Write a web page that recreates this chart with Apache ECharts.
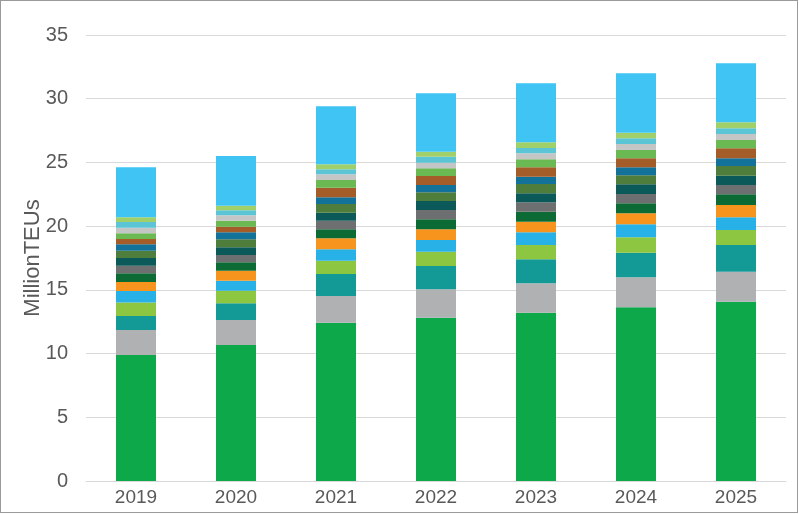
<!DOCTYPE html>
<html>
<head>
<meta charset="utf-8">
<script src="https://cdn.jsdelivr.net/npm/echarts@6/dist/echarts.min.js"></script>
<style>
html,body{margin:0;padding:0;background:#fff;}
#wrap{position:absolute;left:0;top:0;width:796px;height:511px;border:1.5px solid #9a9a9a;}
#c{width:799px;height:514px;position:absolute;left:0;top:0;}
</style>
</head>
<body>
<div id="c"></div>
<div id="wrap" style="pointer-events:none"></div>
<script>
const years = ['2019','2020','2021','2022','2023','2024','2025'];
const s01 = [9.89, 10.67, 12.42, 12.82, 13.21, 13.63, 14.07];
const s02 = [1.96, 1.96, 2.10, 2.22, 2.30, 2.36, 2.35];
const s03 = [1.10, 1.31, 1.72, 1.83, 1.89, 1.93, 2.10];
const s04 = [1.05, 0.99, 1.05, 1.12, 1.12, 1.20, 1.18];
const s05 = [0.91, 0.79, 0.89, 0.92, 1.00, 1.02, 0.99];
const s06 = [0.71, 0.78, 0.87, 0.84, 0.83, 0.87, 0.97];
const s07 = [0.68, 0.66, 0.70, 0.79, 0.78, 0.78, 0.84];
const s08 = [0.60, 0.58, 0.68, 0.73, 0.74, 0.73, 0.73];
const s09 = [0.60, 0.60, 0.62, 0.70, 0.71, 0.76, 0.73];
const s10 = [0.57, 0.63, 0.69, 0.69, 0.73, 0.71, 0.76];
const s11 = [0.50, 0.55, 0.52, 0.57, 0.57, 0.63, 0.60];
const s12 = [0.42, 0.44, 0.76, 0.71, 0.74, 0.70, 0.79];
const s13 = [0.45, 0.47, 0.60, 0.60, 0.63, 0.65, 0.65];
const s14 = [0.44, 0.42, 0.45, 0.44, 0.47, 0.47, 0.47];
const s15 = [0.44, 0.39, 0.39, 0.47, 0.41, 0.45, 0.45];
const s16 = [0.37, 0.36, 0.39, 0.39, 0.45, 0.44, 0.47];
const s17 = [3.93, 3.90, 4.56, 4.58, 4.63, 4.66, 4.63];
const yTicks = [0, 5, 10, 15, 20, 25, 30, 35];

const seriesData = [s01,s02,s03,s04,s05,s06,s07,s08,s09,s10,s11,s12,s13,s14,s15,s16,s17];
const colors = ['#0CA84A','#B0B1B3','#139A96','#8DC641','#27B1E6','#F7941E','#0C6B35','#6E6F71',
  '#0B5959','#4F7D3B','#13729A','#A45D29','#6BB953','#C4C6C6','#5BC5D6','#A1D06A','#3FC4F4'];

const chart = echarts.init(document.getElementById('c'));
chart.setOption({
  animation:false,
  grid:{left:86, right:13, top:35, bottom:33, outerBoundsMode:'none', containLabel:false},
  xAxis:{
    type:'category', data:years,
    axisLine:{show:true, lineStyle:{color:'#d9d9d9'}},
    axisTick:{show:false},
    axisLabel:{color:'#595959', fontSize:19, fontFamily:'Liberation Sans, Arial', margin:7}
  },
  yAxis:{
    type:'value', min:yTicks[0], max:yTicks[yTicks.length-1], interval:5,
    name:'MillionTEUs', nameLocation:'middle', nameGap:42, nameRotate:90, nameMoveOverlap:false,
    nameTextStyle:{color:'#595959', fontSize:22, fontFamily:'Liberation Sans, Arial'},
    axisLine:{show:false}, axisTick:{show:false},
    axisLabel:{color:'#595959', fontSize:20, fontFamily:'Liberation Sans, Arial', margin:18},
    splitLine:{lineStyle:{color:'#d9d9d9', width:1}}
  },
  series: seriesData.map((d,i)=>({
    type:'bar', stack:'total', data:d, barWidth:'40%',
    itemStyle:{color:colors[i]}
  }))
});
</script>
</body>
</html>
